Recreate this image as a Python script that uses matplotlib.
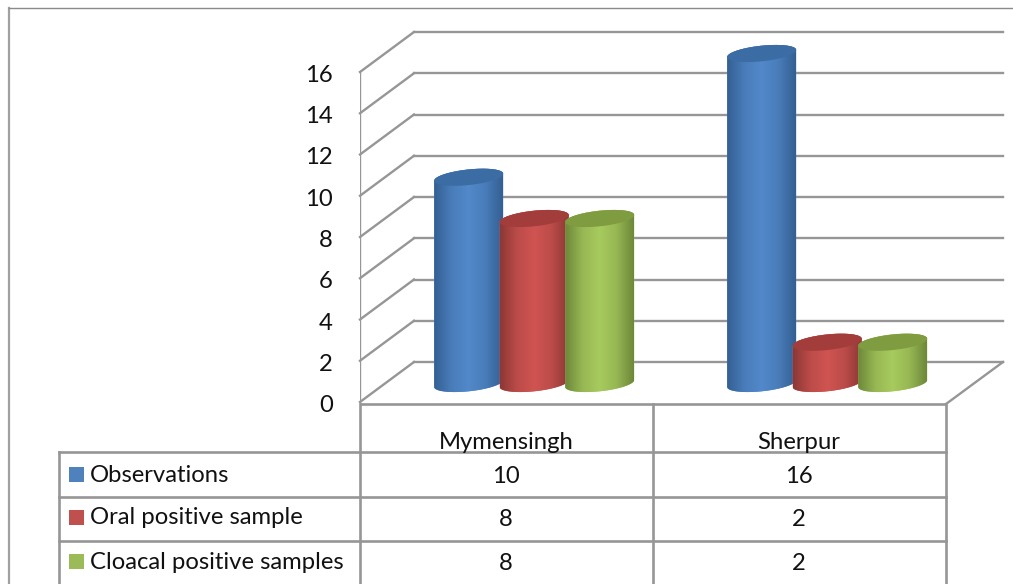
import numpy as np
import matplotlib
matplotlib.use("Agg")
import matplotlib.pyplot as plt
from matplotlib.colors import LinearSegmentedColormap, to_rgb
from matplotlib.patches import Polygon, Rectangle

categories = ["Mymensingh", "Sherpur"]
series_names = ["Observations", "Oral positive sample", "Cloacal positive samples"]
observations = [10, 16]
oral_positive = [8, 2]
cloacal_positive = [8, 2]
y_ticks = [0, 2, 4, 6, 8, 10, 12, 14, 16]

series_values = [observations, oral_positive, cloacal_positive]
swatch_colors = ["#4f81bd", "#c0504d", "#9bbb59"]
# edge, middle and lid shades of each cylinder
side_edge = ["#345f92", "#8c3836", "#6d883a"]
side_mid = ["#5289cb", "#d05451", "#a8cb5e"]
lid_colors = ["#3b6ca4", "#a33d3b", "#7f9c40"]

W, H = 1013, 584
GRID = "#969696"
TEXT = "#111111"
plt.rcParams["font.family"] = ["Lato", "DejaVu Sans"]
FS = 17.2

fig = plt.figure(figsize=(W / 100, H / 100), dpi=100)

# overlay in pixel units for the frame and the data table
frame = fig.add_axes([0, 0, 1, 1])
frame.set_xlim(0, W)
frame.set_ylim(H, 0)
frame.axis("off")

# plot area, with spare room below 0 and above 16 for the 3D depth
unit_px = 330 / 16
y_low, y_high = -3, 19
ax = fig.add_axes([360 / W, 1 - (402 - y_low * unit_px) / H, 586 / W, (y_high - y_low) * unit_px / H])
ax.axis("off")
ax.patch.set_alpha(0)

px_x = 2 / 586
px_y = 1 / unit_px
depth_x = 54 * px_x
depth_y = 40 * px_y
x_left, x_right = -0.5, 1.5

# side wall and back wall lines
for v in y_ticks:
    ax.plot([x_left, x_left + depth_x], [v, v + depth_y], color=GRID, lw=1.7, zorder=1, clip_on=False)
    ax.plot([x_left + depth_x, x_right + depth_x + 3 * px_x], [v + depth_y, v + depth_y],
            color=GRID, lw=1.7, zorder=1, clip_on=False)
    ax.text(x_left - 27 * px_x, v - 3.5 * px_y, str(v), ha="right", va="center", fontsize=FS, color=TEXT)
ax.plot([x_left, x_left], [0, 16], color=GRID, lw=1.7, zorder=1)

# floor outline
floor_y = -2 * px_y
ax.plot([x_left, x_right], [floor_y, floor_y], color=GRID, lw=1.9, zorder=1)
ax.plot([x_right, x_right + depth_x + 3 * px_x], [floor_y, depth_y], color=GRID, lw=1.7, zorder=1, clip_on=False)

half_w = 34.5 * px_x
ell_h = 7.8 * px_y
ell_tilt = 3.5 * px_y
step = 65.5 * px_x
base_y = 18.5 * px_y
t = np.linspace(0, 2 * np.pi, 121)


def rim(cx, y0, t_vals):
    return np.column_stack([cx + half_w * np.cos(t_vals),
                            y0 + ell_h * np.sin(t_vals) + ell_tilt * np.cos(t_vals)])


def side_cmap(edge, mid):
    e, m = np.array(to_rgb(edge)), np.array(to_rgb(mid))
    between = e + 0.7 * (m - e)
    return LinearSegmentedColormap.from_list("side", [e, between, m, between, e])


z = 3
for c in range(len(categories)):
    for s, values in enumerate(series_values):
        cx = c + depth_x / 2 + (s - 1) * step + 0.7 * px_x
        top_y = base_y + values[c]
        lower = rim(cx, base_y, np.linspace(np.pi, 2 * np.pi, 60))
        upper = rim(cx, top_y, np.linspace(0, np.pi, 60))
        body = Polygon(np.vstack([lower, upper]), closed=True, facecolor=side_mid[s], edgecolor="none", zorder=z)
        ax.add_patch(body)
        # horizontal shading across the cylinder, clipped to its outline
        shade = np.linspace(0, 1, 128).reshape(1, -1)
        im = ax.imshow(shade, cmap=side_cmap(side_edge[s], side_mid[s]), aspect="auto", interpolation="bilinear",
                       zorder=z + 0.1, extent=[cx - half_w, cx + half_w, base_y - 1, top_y + 1])
        im.set_clip_path(body)
        ax.add_patch(Polygon(rim(cx, top_y, t), closed=True, facecolor=lid_colors[s], edgecolor="none", zorder=z + 0.2))
        z += 1
ax.set_xlim(x_left, x_right)
ax.set_ylim(y_low, y_high)

# outer frame, open at the bottom and right
frame.plot([9, 9], [8, H], color="#a0a0a0", lw=1.6)
frame.plot([9, W], [8, 8], color="#8a8a8a", lw=1.0)

# data table
row_lines = [452, 496.5, 541]
col_lines = [360, 653, 946]
for y in row_lines:
    frame.plot([59, 946], [y, y], color=GRID, lw=1.9)
for x in col_lines:
    frame.plot([x, x], [404, H], color=GRID, lw=1.9)
frame.plot([59, 59], [452, H], color=GRID, lw=1.9)

col_centers = [506, 799]
row_centers = [474.5, 517.5, 561]
for name, x in zip(categories, col_centers):
    frame.text(x, 442.5, name, ha="center", va="center", fontsize=FS, color=TEXT)
for r, name in enumerate(series_names):
    y = row_centers[r]
    frame.add_patch(Rectangle((69, y - 7.5), 15, 15, facecolor=swatch_colors[r], edgecolor="none"))
    frame.text(90, y + 0.5 + (r == 2), name, ha="left", va="center", fontsize=FS, color=TEXT)
    for c, x in enumerate(col_centers):
        frame.text(x, y + 2, str(series_values[r][c]), ha="center", va="center", fontsize=FS, color=TEXT)

fig.savefig("out.png", dpi=100, facecolor="white")
